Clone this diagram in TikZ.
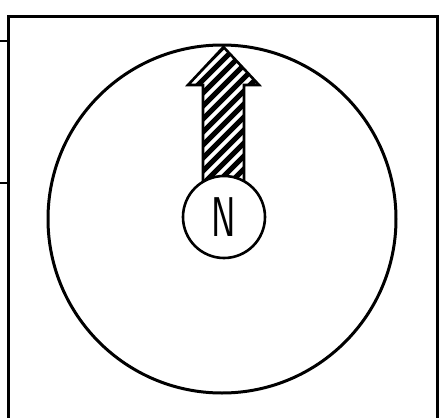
\documentclass[tikz,border=0pt]{standalone}
\usepackage{graphicx}
\begin{document}
\begin{tikzpicture}[x=1pt,y=-1pt,line join=miter,
  frameline/.style={line width=3pt},
  stubline/.style={line width=2pt},
  dialcircle/.style={circle,draw,line width=3pt,minimum size=348pt,inner sep=0pt},
  northcircle/.style={circle,draw,fill=white,line width=2.6pt,minimum size=82pt,inner sep=0pt},
  arrowoutline/.style={draw,line width=2.6pt},
  hatchline/.style={line width=5pt}]
\useasboundingbox (0,0) rectangle (440,418);
\fill[white] (0,0) rectangle (440,418);
% frame
\draw[frameline] (8,421) -- (8,16) -- (437.5,16) -- (437.5,421);
\draw[stubline] (0,41) -- (8,41);
\draw[stubline] (0,183) -- (8,183);
% dial
\node[dialcircle] (dial) at (222,219) {};
% arrow
\coordinate (tip) at (223.5,47);
\def\arrowpath{(tip) -- (259,85) -- (244,85) -- (244,205) -- (203,205) -- (203,85) -- (188,85) -- cycle}
\begin{scope}
  \clip \arrowpath;
  \foreach \k in {0,...,24}{
    \draw[hatchline] ({\k*13-10},215) -- ({\k*13+190},15);
  }
\end{scope}
\draw[arrowoutline] \arrowpath;
% north circle
\node[northcircle] (north) at (224,217) {\scalebox{0.66}[1]{\fontsize{56}{56}\selectfont\sffamily N}};
\end{tikzpicture}
\end{document}
